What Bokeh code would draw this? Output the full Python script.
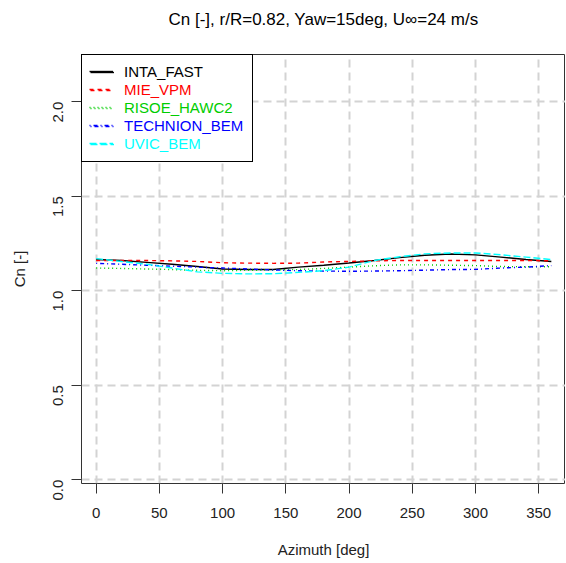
import math
from bokeh.plotting import figure
from bokeh.models import Range1d, FixedTicker, Legend, LegendItem, PrintfTickFormatter, LinearAxis
from bokeh.embed import file_html
from bokeh.resources import INLINE

# ---- data ----
azimuth = [0, 20, 40, 60, 80, 100, 120, 140, 160, 180, 200, 220, 240, 260, 280, 300, 320, 340, 360]
inta_fast = [1.165, 1.160, 1.150, 1.140, 1.128, 1.115, 1.112, 1.112, 1.125, 1.135, 1.147, 1.160, 1.175, 1.188, 1.194, 1.190, 1.178, 1.165, 1.155]
mie_vpm = [1.160, 1.160, 1.160, 1.158, 1.155, 1.148, 1.146, 1.145, 1.146, 1.152, 1.155, 1.158, 1.160, 1.160, 1.160, 1.160, 1.160, 1.160, 1.158]
risoe_hawc2 = [1.120, 1.118, 1.115, 1.112, 1.108, 1.106, 1.108, 1.110, 1.112, 1.118, 1.125, 1.132, 1.137, 1.137, 1.135, 1.133, 1.128, 1.127, 1.127]
technion_bem = [1.145, 1.140, 1.135, 1.130, 1.125, 1.120, 1.115, 1.110, 1.106, 1.104, 1.103, 1.104, 1.106, 1.109, 1.112, 1.113, 1.120, 1.125, 1.133]
uvic_bem = [1.170, 1.155, 1.140, 1.120, 1.100, 1.092, 1.089, 1.090, 1.097, 1.106, 1.125, 1.160, 1.180, 1.195, 1.200, 1.200, 1.190, 1.178, 1.165]

series_names = ["INTA_FAST", "MIE_VPM", "RISOE_HAWC2", "TECHNION_BEM", "UVIC_BEM"]
series_values = [inta_fast, mie_vpm, risoe_hawc2, technion_bem, uvic_bem]
series_colors = ["#000000", "#FF0000", "#00CD00", "#0000FF", "#00FFFF"]
series_dashes = ["solid", "4 4", "1 3", "1 3 4 3", "7 3"]

x_ticks = [0, 50, 100, 150, 200, 250, 300, 350]
y_ticks = [0.0, 0.5, 1.0, 1.5, 2.0]
title_text = "Cn [-], r/R=0.82, Yaw=15deg, U\u221e=24 m/s"

FONT = "Liberation Sans"
FW, FH = 484, 429

p = figure(frame_width=FW, frame_height=FH, title=None,
           min_border_left=81, min_border_right=0, min_border_top=54, min_border_bottom=78,
           x_range=Range1d(-11.6, 371.2), y_range=Range1d(-0.02, 2.25),
           output_backend="svg", toolbar_location=None,
           background_fill_color="white", border_fill_color="white")

p.outline_line_color = "#333333"
p.outline_line_width = 1
p.outline_line_alpha = 1

bottom_axis = p.below[0]
left_axis = p.left[0]

for ax in (bottom_axis, left_axis):
    ax.axis_line_color = None
    ax.major_tick_in = 0
    ax.major_tick_out = 10
    ax.major_tick_line_color = "#333333"
    ax.minor_tick_line_color = None
    ax.major_label_text_font = FONT
    ax.major_label_text_font_size = "15px"
    ax.major_label_text_color = "#222222"
    ax.axis_label_text_font = FONT
    ax.axis_label_text_font_size = "15px"
    ax.axis_label_text_font_style = "normal"
    ax.axis_label_text_color = "#222222"

bottom_axis.ticker = FixedTicker(ticks=x_ticks)
left_axis.ticker = FixedTicker(ticks=y_ticks)
left_axis.formatter = PrintfTickFormatter(format="%.1f")
left_axis.major_label_orientation = math.pi / 2
bottom_axis.axis_label = "Azimuth [deg]"
left_axis.axis_label = "Cn [-]"
bottom_axis.major_label_standoff = 14
left_axis.major_label_standoff = 13
bottom_axis.axis_label_standoff = 20
left_axis.axis_label_standoff = 18

# title drawn as the label of an empty axis above the frame
top_axis = LinearAxis(ticker=FixedTicker(ticks=[]), axis_label=title_text,
                      axis_line_color=None, major_tick_line_color=None,
                      minor_tick_line_color=None, major_tick_out=0, major_tick_in=0,
                      major_label_standoff=0, major_label_text_font_size="0px",
                      axis_label_standoff=26, axis_label_text_font=FONT,
                      axis_label_text_font_size="17px", axis_label_text_font_style="normal",
                      axis_label_text_color="#000000")
p.add_layout(top_axis, "above")

for g in (p.xgrid[0], p.ygrid[0]):
    g.grid_line_color = "#d3d3d3"
    g.grid_line_width = 2
    g.grid_line_dash = "8 5"
p.xgrid.ticker = FixedTicker(ticks=x_ticks)
p.ygrid.ticker = FixedTicker(ticks=y_ticks)

renderers = []
for name, vals, col, dash in zip(series_names, series_values, series_colors, series_dashes):
    r = p.line(azimuth, vals, line_color=col, line_dash=dash, line_width=1.4)
    renderers.append(r)

common = dict(margin=0, spacing=0, glyph_width=24, glyph_height=18, label_height=18,
              label_width=117, label_standoff=11, label_text_font=FONT,
              label_text_font_size="15px")

# legend frame (white box with border)
box = Legend(items=[LegendItem(label=n, renderers=[r]) for n, r in zip(series_names, renderers)],
             location="top_left", padding=8, label_text_alpha=0,
             border_line_color="#000000", border_line_width=1, border_line_alpha=1,
             background_fill_color="white", background_fill_alpha=1, **common)
p.add_layout(box)

# one legend per series so each label gets its own colour
for i, (name, r, col) in enumerate(zip(series_names, renderers, series_colors)):
    lg = Legend(items=[LegendItem(label=name, renderers=[r])],
                location=(8, FH - (8 + 18 * (i + 1))), padding=0,
                label_text_color=col, border_line_color=None,
                background_fill_alpha=0, **common)
    p.add_layout(lg)

open("out.html", "w").write(file_html(p, INLINE))
